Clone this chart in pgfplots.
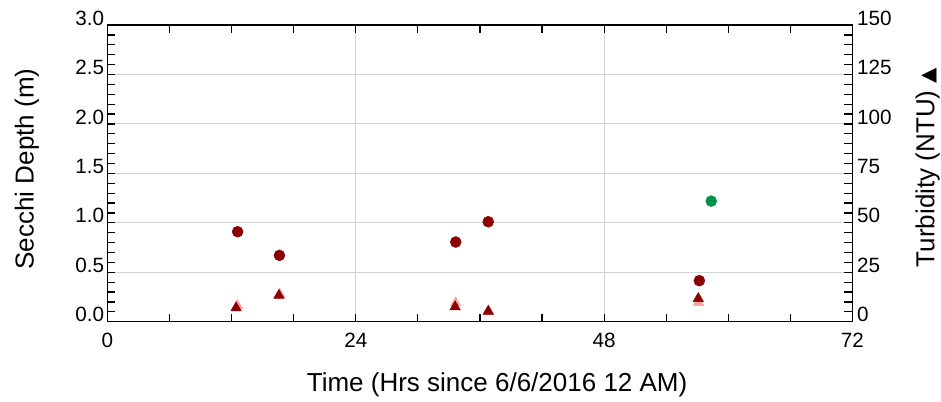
\documentclass[border=0pt]{standalone}
\usepackage{pgfplots}
\pgfplotsset{compat=1.18}
\usepackage{fontspec}
\setmainfont{Liberation Sans}
\newfontfamily\dejavu{DejaVu Sans}
\definecolor{dred}{HTML}{8B0000}
\definecolor{pinkt}{HTML}{F4A3A3}
\definecolor{dgreen}{HTML}{00924A}
\definecolor{gridc}{HTML}{D2D2D2}
\pgfplotstableread{
x y
12.58 0.91
16.62 0.671
33.66 0.806
36.80 1.011
57.20 0.415
}\secchi
\pgfplotstableread{
x y
58.35 1.22
}\secchig
\pgfplotstableread{
x y
12.43 7.0
16.57 13.3
33.60 7.5
36.80 5.3
57.10 11.7
}\turb
\pgfplotstableread{
x y
12.55 8.2
16.65 13.9
33.65 9.5
36.85 5.0
57.12 9.7
}\turbp
\begin{document}
\begin{tikzpicture}
\useasboundingbox (0,0) rectangle (705.75pt,301.5pt);
\pgfplotsset{
  every axis/.append style={
    at={(80.6pt,60.2pt)}, anchor=south west,
    width=558.75pt, height=222.5pt, scale only axis,
    xmin=0, xmax=72,
    /pgf/number format/assume math mode=true,
    tick label style={font=\fontsize{15.5}{17}\selectfont},
    label style={font=\fontsize{19.5}{22}\selectfont},
    tick align=inside,
    major tick length=6pt, minor tick length=6pt,
    every tick/.style={black, line width=0.9pt},
    axis line style={line width=1.1pt},
  }
}
\begin{axis}[
  ymin=0, ymax=3,
  xtick={0,24,48,72}, minor x tick num=3,
  ytick={0,0.5,...,3.0}, minor y tick num=4,
  ytick pos=left, xtick pos=both,
  yticklabel style={/pgf/number format/fixed, /pgf/number format/fixed zerofill, /pgf/number format/precision=1, yshift=5.25pt, xshift=1pt},
  xticklabel style={yshift=-5pt},
  xmajorgrids, ymajorgrids,
  major grid style={gridc, line width=0.8pt},
  xlabel={Time (Hrs since 6/6/2016 12 AM)},
  ylabel={Secchi Depth (m)},
  xlabel style={at={(axis description cs:0.523,-0.213)}, anchor=center},
  ylabel style={at={(axis description cs:-0.108,0.515)}, anchor=center},
]
\addplot[only marks, mark=*, mark size=4.1pt, color=dred, mark options={fill=dred, draw=dred}] table {\secchi};
\addplot[only marks, mark=*, mark size=4.1pt, color=dgreen, mark options={fill=dgreen, draw=dgreen}] table {\secchig};
\end{axis}
\begin{axis}[
  ymin=0, ymax=150,
  axis x line=none,
  axis y line*=right,
  ytick={0,25,...,150}, minor y tick num=4,
  yticklabel style={yshift=5.25pt, xshift=0pt},
  ylabel={Turbidity (NTU) {\dejavu\fontsize{15}{16}\selectfont ▲}},
  ylabel style={at={(axis description cs:1.101,0.52)}, anchor=center, rotate=0},
]
\addplot[only marks, mark=triangle*, mark size=4.5pt, color=pinkt, mark options={fill=pinkt, draw=pinkt}] table {\turbp};
\addplot[only marks, mark=triangle*, mark size=4.5pt, color=dred, mark options={fill=dred, draw=dred}] table {\turb};
\end{axis}
\end{tikzpicture}
\end{document}
